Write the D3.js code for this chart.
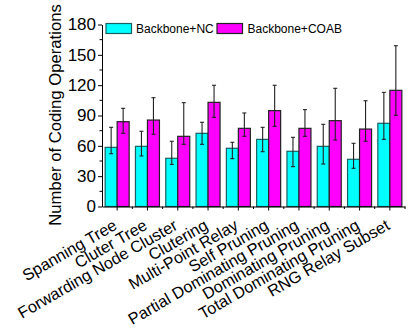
<!DOCTYPE html>
<html><head><meta charset="utf-8">
<script src="https://cdn.jsdelivr.net/npm/d3@7"></script>
<style>body{margin:0;background:#fff}svg{display:block;font-family:"Liberation Sans",Arial,sans-serif}</style>
</head><body><svg id="c" width="409" height="329"></svg>
<script>
const categories = ["Spanning Tree","Cluter Tree","Forwarding Node Cluster","Clutering","Multi-Point Relay","Self Pruning","Partial Dominating Pruning","Dominating Pruning","Total Dominating Pruning","RNG Relay Subset"];
const seriesNames = ["Backbone+NC","Backbone+COAB"];
const ncValues = [58.5,59.5,47.7,72.4,57.6,66.4,54.6,59.5,46.7,82.3];
const ncLow    = [52.2,50.0,41.7,61.5,47.3,54.2,39.4,42.0,37.8,66.4];
const ncHigh   = [78.3,74.4,64.5,83.3,63.5,78.3,68.4,81.3,62.5,112.9];
const coabValues = [83.9,85.5,69.4,103.0,77.3,94.8,77.3,84.9,76.6,114.9];
const coabLow    = [72.4,71.4,61.5,88.2,69.4,79.3,69.4,65.8,64.5,90.2];
const coabHigh   = [97.1,107.6,102.7,119.9,92.5,119.9,95.8,116.9,104.6,159.0];
const yTicks = [0,30,60,90,120,150,180];

const svg = d3.select("#c");
const L=102, R=405, T=24.5, B=206.5;
const x = d3.scaleBand().domain(categories).range([L,R]).paddingInner(0).paddingOuter(0);
const y = d3.scaleLinear().domain([0,180]).range([B,T]);
const bw = 12;
const series = [
  {name:seriesNames[0], v:ncValues, lo:ncLow, hi:ncHigh, fill:"#00FFFF", stroke:"#1a6060", off:-bw},
  {name:seriesNames[1], v:coabValues, lo:coabLow, hi:coabHigh, fill:"#FF00FF", stroke:"#222", off:0}
];
series.forEach(s=>{
  const g = svg.append("g");
  g.selectAll("rect").data(categories).join("rect")
    .attr("x",(d)=>x(d)+x.bandwidth()/2+s.off)
    .attr("y",(d,i)=>y(s.v[i]))
    .attr("width",bw)
    .attr("height",(d,i)=>y(0)-y(s.v[i]))
    .attr("fill",s.fill).attr("stroke",s.stroke).attr("stroke-width",1.2);
  const eg = svg.append("g").attr("stroke","#222").attr("stroke-width",1.1);
  categories.forEach((c,i)=>{
    const cx = x(c)+x.bandwidth()/2+s.off+bw/2;
    eg.append("line").attr("x1",cx).attr("x2",cx).attr("y1",y(s.lo[i])).attr("y2",y(s.hi[i]));
    eg.append("line").attr("x1",cx-2).attr("x2",cx+2).attr("y1",y(s.lo[i])).attr("y2",y(s.lo[i]));
    eg.append("line").attr("x1",cx-2).attr("x2",cx+2).attr("y1",y(s.hi[i])).attr("y2",y(s.hi[i]));
  });
});

// y axis
const ya = svg.append("g").attr("transform",`translate(${L},0)`)
  .call(d3.axisLeft(y).tickValues(yTicks).tickSize(4).tickPadding(2).tickSizeOuter(0));
ya.select(".domain").attr("stroke","#000");
ya.selectAll("text").attr("font-size",17).attr("font-family","Liberation Sans, Arial").attr("fill","#000");
ya.append("g").selectAll("line").data(d3.range(15,180,30)).join("line")
  .attr("x1",-2.5).attr("x2",0).attr("y1",d=>y(d)).attr("y2",d=>y(d)).attr("stroke","#000");

// x axis
const xa = svg.append("g").attr("transform",`translate(0,${B})`)
  .call(d3.axisBottom(x).tickSize(4).tickSizeOuter(0).tickFormat(""));
xa.select(".domain").attr("stroke","#000");
xa.append("g").selectAll("line").data(categories).join("line")
  .attr("x1",d=>x(d)+x.bandwidth()).attr("x2",d=>x(d)+x.bandwidth()).attr("y1",0).attr("y2",2.5).attr("stroke","#000");
svg.append("g").selectAll("text").data(categories).join("text")
  .attr("transform",d=>`translate(${x(d)+x.bandwidth()/2+1},${B+22}) rotate(-30)`)
  .attr("text-anchor","end").attr("font-size",16.3).text(d=>d);

// y label
svg.append("text").attr("transform",`translate(61,115) rotate(-90)`)
  .attr("text-anchor","middle").attr("font-size",16.7).text("Number of Coding Operations");

// legend
const leg = [{x:106,tx:136},{x:217,tx:247.5}];
series.forEach((s,i)=>{
  svg.append("rect").attr("x",leg[i].x).attr("y",23.5).attr("width",25.5).attr("height",10)
    .attr("fill",s.fill).attr("stroke",s.stroke).attr("stroke-width",1.2);
  svg.append("text").attr("x",leg[i].tx).attr("y",33).attr("font-size",12).text(s.name);
});
</script></body></html>
